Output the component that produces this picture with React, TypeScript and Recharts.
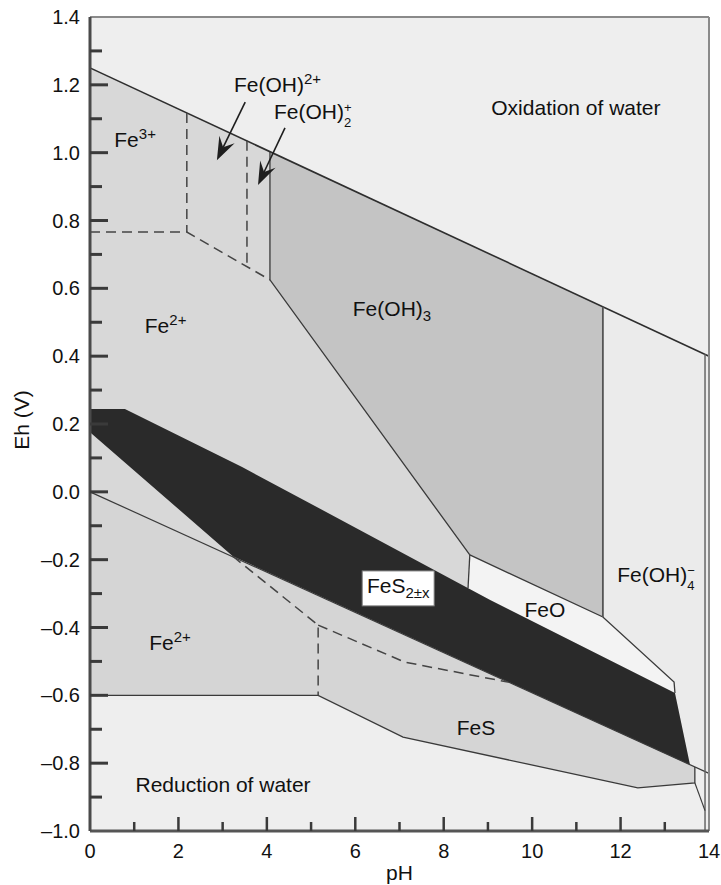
import React from 'react';
import { ScatterChart, Scatter, XAxis, YAxis } from 'recharts';

// [pH, Eh (V)] pairs
type P = [number, number];

const FONT = '"Liberation Sans", Arial, Helvetica, sans-serif';

// water stability limits
const o2Line: P[] = [[0, 1.25], [14, 0.4]];
const h2Line: P[] = [[0, 0], [14, -0.83]];

// stability fields
const waterField: P[] = [[0, 1.25], [14, 0.4], [14, -0.83], [0, 0]];
const feOH3Field: P[] = [[4.07, 1.003], [11.6, 0.546], [11.6, -0.369], [8.59, -0.186], [4.07, 0.625]];
const feOH4Field: P[] = [[11.6, 0.546], [14, 0.4], [14, -0.83], [13.57, -0.805], [13.23, -0.593], [13.21, -0.561], [11.6, -0.369]];
const feOField: P[] = [[8.59, -0.186], [11.6, -0.369], [13.21, -0.561], [13.23, -0.593], [9.05, -0.319], [8.55, -0.284]];
const lowerFe2Field: P[] = [[0, 0], [13.68, -0.811], [13.68, -0.858], [12.39, -0.873], [7.08, -0.723], [5.16, -0.6], [0, -0.6]];
const pyriteField: P[] = [[0, 0.244], [0.79, 0.244], [3.44, 0.073], [6.11, -0.113], [9.05, -0.319], [13.23, -0.593], [13.57, -0.805], [3.23, -0.19], [0, 0.176]];

// solid boundaries
const feOH3Left: P[] = [[4.07, 1.003], [4.07, 0.625], [8.59, -0.186]];
const feOTop: P[] = [[8.59, -0.186], [11.6, -0.369], [13.21, -0.561], [13.23, -0.593]];
const feOLeft: P[] = [[8.59, -0.186], [8.55, -0.284]];
const feOH3Right: P[] = [[11.6, 0.546], [11.6, -0.369]];
const edgeLine: P[] = [[13.91, 0.406], [13.91, -1.0]];
const fesBottom: P[] = [[0, -0.6], [5.16, -0.6], [7.08, -0.723], [12.39, -0.873], [13.68, -0.858], [13.68, -0.811]];
const fesTail: P[] = [[13.68, -0.858], [13.91, -0.94]];

// dashed boundaries between dissolved species
const fe3Fe2: P[] = [[0, 0.766], [2.19, 0.766], [4.07, 0.625]];
const feOH2Left: P[] = [[2.19, 1.117], [2.19, 0.766]];
const feOH2pLeft: P[] = [[3.55, 1.035], [3.55, 0.664]];
const fe2FeS: P[] = [[3.23, -0.19], [5.16, -0.393], [5.16, -0.6]];
const fe2FeSMid: P[] = [[5.16, -0.393], [7.12, -0.502], [9.45, -0.561]];

// pointer arrows (tail -> head)
const arrowFeOH: P[] = [[3.51, 1.149], [2.87, 0.978]];
const arrowFeOH2: P[] = [[4.41, 1.073], [3.8, 0.905]];

// frame
const topEdge: P[] = [[0, 1.4], [14, 1.4]];
const rightEdge: P[] = [[14, 1.4], [14, -1.0]];

const phTicks = [0, 1, 2, 3, 4, 5, 6, 7, 8, 9, 10, 11, 12, 13, 14];
const ehTicks = [-1.0, -0.9, -0.8, -0.7, -0.6, -0.5, -0.4, -0.3, -0.2, -0.1, 0, 0.1, 0.2, 0.3, 0.4, 0.5, 0.6, 0.7, 0.8, 0.9, 1.0, 1.1, 1.2, 1.3, 1.4];

const toPts = (p: P[]) => p.map(([ph, eh]) => ({ ph, eh }));
const noDot = () => <g />;

const polygonLine = (fill: string) => (props: any) => (
  <polygon
    points={props.points.map((p: any) => `${p.x},${p.y}`).join(' ')}
    fill={fill}
    stroke="none"
  />
);

// shaft plus a barbed head at the last point
const arrowLine = (props: any) => {
  const pts = props.points;
  const a = pts[0];
  const b = pts[pts.length - 1];
  const dx = b.x - a.x;
  const dy = b.y - a.y;
  const len = Math.hypot(dx, dy);
  const ux = dx / len;
  const uy = dy / len;
  const hl = 23;
  const hw = 8.5;
  const bx = b.x - ux * hl;
  const by = b.y - uy * hl;
  const nx = b.x - ux * hl * 0.62;
  const ny = b.y - uy * hl * 0.62;
  return (
    <g>
      <line x1={a.x} y1={a.y} x2={nx} y2={ny} stroke="#1e1e1e" strokeWidth={1.6} />
      <polygon
        points={`${b.x},${b.y} ${bx - uy * hw},${by + ux * hw} ${nx},${ny} ${bx + uy * hw},${by - ux * hw}`}
        fill="#1e1e1e"
      />
    </g>
  );
};

const field = (key: string, p: P[], fill: string) => (
  <Scatter key={key} data={toPts(p)} shape={noDot} line={polygonLine(fill)} lineType="joint" isAnimationActive={false} />
);

const edge = (key: string, p: P[], stroke: string, width: number, dash?: string) => (
  <Scatter
    key={key}
    data={toPts(p)}
    shape={noDot}
    line={{ stroke, strokeWidth: width, strokeDasharray: dash, fill: 'none' }}
    lineType="joint"
    isAnimationActive={false}
  />
);

const arrow = (key: string, p: P[]) => (
  <Scatter key={key} data={toPts(p)} shape={noDot} line={arrowLine} lineType="joint" isAnimationActive={false} />
);

const sup = (s: string) => <tspan dy={-8} fontSize={15}>{s}</tspan>;
const sub = (s: string) => <tspan dy={5} fontSize={15}>{s}</tspan>;
// charge over count, stacked after the formula
const stacked = (top: string, bottom: string) => (
  <>
    <tspan dy={-7} fontSize={13}>{top}</tspan>
    <tspan dx={-7.6} dy={15} fontSize={13}>{bottom}</tspan>
  </>
);

type Lbl = { key: string; at: P; text: React.ReactNode; boxed?: boolean };

const LABELS: Lbl[] = [
  { key: 'fe3', at: [1.02, 1.017], text: <>Fe{sup('3+')}</> },
  { key: 'feoh', at: [4.24, 1.179], text: <>Fe(OH){sup('2+')}</> },
  { key: 'feoh2', at: [5.04, 1.099], text: <>Fe(OH){stacked('+', '2')}</> },
  { key: 'ox', at: [10.99, 1.111], text: 'Oxidation of water' },
  { key: 'feoh3', at: [6.83, 0.518], text: <>Fe(OH){sub('3')}</> },
  { key: 'fe2a', at: [1.71, 0.468], text: <>Fe{sup('2+')}</> },
  { key: 'fes2', at: [6.97, -0.298], text: <>FeS<tspan dy={5} fontSize={15}>2±x</tspan></>, boxed: true },
  { key: 'feo', at: [10.29, -0.369], text: 'FeO' },
  { key: 'feoh4', at: [12.8, -0.266], text: <>Fe(OH){stacked('\u2212', '4')}</> },
  { key: 'fe2b', at: [1.81, -0.466], text: <>Fe{sup('2+')}</> },
  { key: 'fes', at: [8.73, -0.717], text: 'FeS' },
  { key: 'red', at: [3.01, -0.885], text: 'Reduction of water' },
];

const label = (l: Lbl) => (
  <Scatter
    key={l.key}
    data={toPts([l.at])}
    isAnimationActive={false}
    shape={(props: any) => (
      <g>
        {l.boxed && (
          <rect x={props.cx - 36} y={props.cy - 22} width={72} height={35} fill="#ffffff" stroke="#777" strokeWidth={1} />
        )}
        <text x={props.cx} y={props.cy} textAnchor="middle" fontSize={21} fontFamily={FONT} fill="#111">
          {l.text}
        </text>
      </g>
    )}
  />
);

const fmt = (v: number) => (v < 0 ? '\u2013' + Math.abs(v).toFixed(1) : v.toFixed(1));

const YTick = (props: any) => {
  const { x, y, payload } = props;
  const v = payload.value;
  const major = Math.round(v * 10) % 2 === 0;
  const axisX = x + 10;
  const end = v <= -1 || v >= 1.4;
  return (
    <g>
      {!end && <line x1={axisX} x2={axisX + (major ? 18 : 12)} y1={y} y2={y} stroke="#3a3a3a" strokeWidth={3} />}
      {major && (
        <text x={x} y={y + 7} textAnchor="end" fontSize={20} fontFamily={FONT} fill="#111">
          {fmt(v)}
        </text>
      )}
    </g>
  );
};

const XTick = (props: any) => {
  const { x, y, payload } = props;
  const v = payload.value;
  const major = v % 2 === 0;
  const end = v === 0 || v === 14;
  return (
    <g>
      {!end && <line x1={x} x2={x} y1={y} y2={y - (major ? 14 : 9)} stroke="#3a3a3a" strokeWidth={2.5} />}
      {major && (
        <text x={x} y={y + 27} textAnchor="middle" fontSize={20} fontFamily={FONT} fill="#111">
          {v}
        </text>
      )}
    </g>
  );
};

const ehTitle = (props: any) => {
  const vb = props.viewBox;
  const cx = vb.x + 21;
  const cy = vb.y + vb.height / 2 - 4;
  return (
    <text x={cx} y={cy} transform={`rotate(-90, ${cx}, ${cy})`} textAnchor="middle" dominantBaseline="central" fontSize={21} fontFamily={FONT} fill="#111">
      Eh (V)
    </text>
  );
};

const phTitle = (props: any) => {
  const vb = props.viewBox;
  return (
    <text x={vb.x + vb.width / 2} y={vb.y + 49} textAnchor="middle" fontSize={21} fontFamily={FONT} fill="#111">
      pH
    </text>
  );
};

export default function App() {
  return (
    <div style={{ position: 'absolute', left: 0, top: 0, width: 721, height: 885, background: '#fff' }}>
      <ScatterChart width={721} height={885} margin={{ top: 17, right: 12, bottom: 0, left: 0 }}>
        {field('bg', [[0, 1.4], [14, 1.4], [14, -1.0], [0, -1.0]], '#eeeeee')}
        {field('water', waterField, '#d8d8d8')}
        {field('feoh3', feOH3Field, '#c4c4c4')}
        {field('feoh4', feOH4Field, '#ebebeb')}
        {field('feo', feOField, '#f3f3f3')}
        {field('fe2', lowerFe2Field, '#d5d5d5')}
        {field('pyrite', pyriteField, '#2a2a2a')}

        {edge('o2', o2Line, '#2e2e2e', 1.6)}
        {edge('h2', h2Line, '#3a3a3a', 1.2)}
        {edge('feoh3L', feOH3Left, '#3a3a3a', 1.3)}
        {edge('feoT', feOTop, '#3a3a3a', 1.3)}
        {edge('feoL', feOLeft, '#3a3a3a', 1.3)}
        {edge('feoh3R', feOH3Right, '#555555', 1.8)}
        {edge('edgeL', edgeLine, '#666666', 1.5)}
        {edge('fesB', fesBottom, '#3a3a3a', 1.3)}
        {edge('fesT', fesTail, '#3a3a3a', 1.2)}

        {edge('d1', fe3Fe2, '#444444', 1.5, '10 6')}
        {edge('d2', feOH2Left, '#444444', 1.5, '10 6')}
        {edge('d3', feOH2pLeft, '#444444', 1.5, '10 6')}
        {edge('d4', fe2FeS, '#444444', 1.5, '10 6')}
        {edge('d5', fe2FeSMid, '#444444', 1.5, '10 6')}

        {edge('top', topEdge, '#8a8a8a', 2)}
        {edge('right', rightEdge, '#8a8a8a', 2)}

        {arrow('a1', arrowFeOH)}
        {arrow('a2', arrowFeOH2)}

        {LABELS.map(label)}

        <XAxis
          type="number"
          dataKey="ph"
          domain={[0, 14]}
          ticks={phTicks}
          interval={0}
          height={54}
          tickSize={0}
          tickMargin={0}
          tick={XTick}
          axisLine={{ stroke: '#555555', strokeWidth: 3 }}
          label={phTitle}
          zIndex={900}
        />
        <YAxis
          type="number"
          dataKey="eh"
          domain={[-1, 1.4]}
          ticks={ehTicks}
          interval={0}
          width={90}
          tickSize={0}
          tickMargin={10}
          tick={YTick}
          axisLine={{ stroke: '#4a4a4a', strokeWidth: 3 }}
          label={ehTitle}
          zIndex={900}
        />
      </ScatterChart>
    </div>
  );
}
